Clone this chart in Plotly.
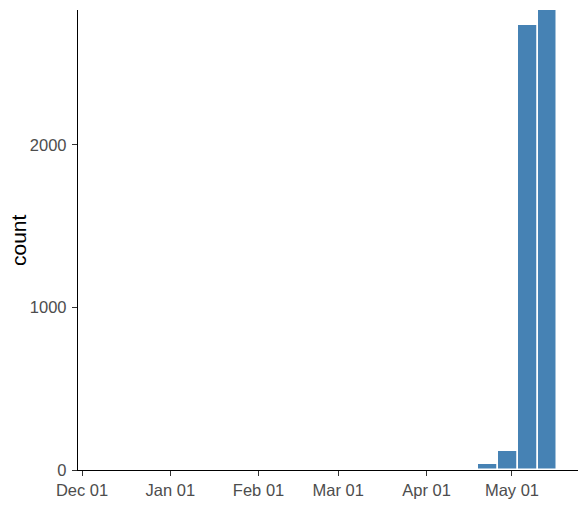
import plotly.graph_objects as go

# Weekly bins (bin centers) and counts
bin_centers = ["2021-04-22 12:00", "2021-04-29 12:00", "2021-05-06 12:00", "2021-05-13 12:00"]
counts = [39, 119, 2738, 2830]
bin_width_days = 7

tick_vals = ["2020-12-01", "2021-01-01", "2021-02-01", "2021-03-01", "2021-04-01", "2021-05-01"]
tick_text = ["Dec 01", "Jan 01", "Feb 01", "Mar 01", "Apr 01", "May 01"]

W, H = 582, 511
L, R, T, B = 78, 4, 10, 41

fig = go.Figure()
fig.add_trace(go.Bar(
    x=bin_centers,
    y=counts,
    width=[bin_width_days * 86400000] * len(counts),
    marker=dict(color="#4682B4", line=dict(color="white", width=1.5)),
    hoverinfo="x+y",
))

font_fam = "Liberation Sans, Arial, sans-serif"
fig.update_layout(
    width=W, height=H,
    margin=dict(l=L, r=R, t=T, b=B, autoexpand=False),
    paper_bgcolor="white", plot_bgcolor="white",
    showlegend=False,
    font=dict(family=font_fam),
    bargap=0,
)
fig.update_xaxes(
    type="date",
    range=["2020-11-29 14:00", "2021-05-24 05:00"],
    tickvals=tick_vals, ticktext=tick_text,
    showgrid=False, zeroline=False,
    showline=True, linecolor="black", linewidth=1.4,
    ticks="outside", ticklen=5, tickwidth=1.2, tickcolor="#333333",
    tickfont=dict(size=16.5, color="#4D4D4D", family=font_fam),
)
fig.update_yaxes(
    range=[0, 2830],
    tickvals=[0, 1000, 2000],
    showgrid=False, zeroline=False,
    showline=True, linecolor="black", linewidth=1.4,
    ticks="outside", ticklen=5, tickwidth=1.2, tickcolor="#333333",
    ticklabelstandoff=2,
    tickfont=dict(size=16.5, color="#4D4D4D", family=font_fam),
)
fig.add_annotation(
    text="count", textangle=-90,
    xref="paper", yref="paper",
    x=(18 - L) / (W - L - R), y=0.5,
    xanchor="center", yanchor="middle",
    showarrow=False,
    font=dict(size=21, color="black", family=font_fam),
)

fig.write_html(
    "out.html",
    config={"displayModeBar": False},
    post_script="document.body.style.margin='0';document.body.style.overflow='hidden';",
)
